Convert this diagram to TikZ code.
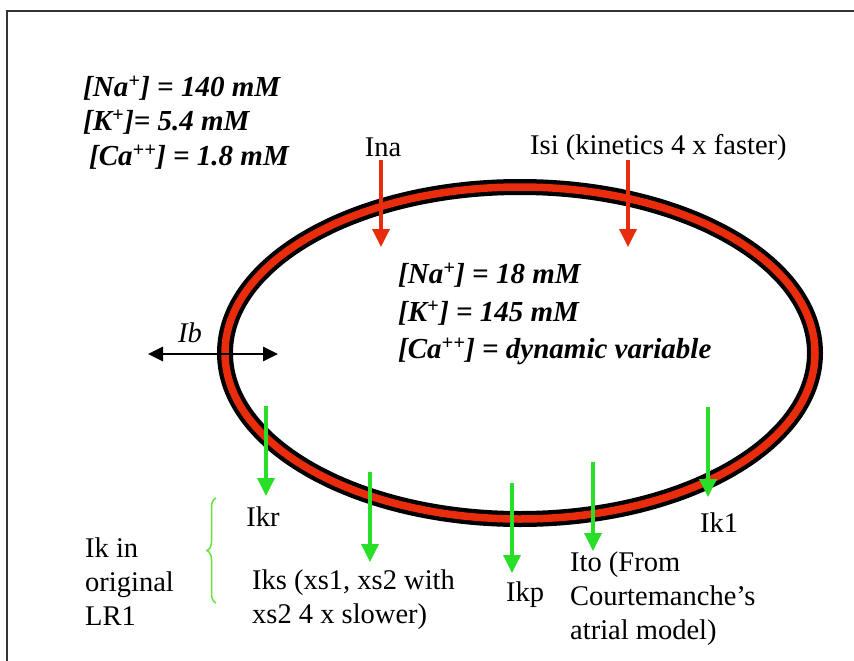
\documentclass[tikz,border=0pt]{standalone}
\usepackage{fontspec}
\setmainfont{Liberation Serif}
\usetikzlibrary{arrows.meta,decorations.pathreplacing}
\definecolor{memred}{RGB}{232,44,12}
\definecolor{curgreen}{RGB}{40,222,40}
\definecolor{bracegreen}{RGB}{100,225,60}
\tikzset{
  lbl/.style={inner sep=0pt, font=\fontsize{28.5}{34}\selectfont, align=left},
  conc/.style={inner sep=0pt, font=\fontsize{29}{34}\selectfont\bfseries\itshape, anchor=west},
  redarr/.style={memred, line width=3.5pt, -{Triangle[width=17pt,length=18pt]}},
  grnarr/.style={curgreen, line width=3.5pt, -{Triangle[width=17pt,length=18pt]}},
  blkarr/.style={black, line width=2.8pt, {Triangle[width=14pt,length=15pt]}-{Triangle[width=14pt,length=15pt]}},
}
\begin{document}
\begin{tikzpicture}[x=1pt,y=-1pt]
\useasboundingbox (0,0) rectangle (854,661);
\fill[white] (0,0) rectangle (854,661);
% frame
\draw[black!80, line width=2pt] (7,661) -- (7,11) -- (854,11);
% membrane
\draw[black, line width=16pt] (520,353) ellipse [x radius=295, y radius=166];
\draw[memred, line width=7.5pt] (520,353) ellipse [x radius=295, y radius=166];
% outside concentrations
\node[conc] (no1) at (83,88) {[Na\textsuperscript{+}] = 140 mM};
\node[conc] (no2) at (83,122) {[K\textsuperscript{+}]= 5.4 mM};
\node[conc] (no3) at (89,157) {[Ca\textsuperscript{++}] = 1.8 mM};
% inside concentrations
\node[conc] (ni1) at (398,275) {[Na\textsuperscript{+}] = 18 mM};
\node[conc] (ni2) at (398,313) {[K\textsuperscript{+}] = 145 mM};
\node[conc] (ni3) at (398,351) {[Ca\textsuperscript{++}] = dynamic variable};
% inward currents
\node[lbl] (ina) at (383,147) {Ina};
\node[lbl, anchor=west] (isi) at (530,147) {Isi (kinetics 4 x faster)};
\coordinate (inaS) at (381,160); \coordinate (inaE) at (381,247);
\coordinate (isiS) at (628,160); \coordinate (isiE) at (628,247);
\draw[redarr] (inaS) -- (inaE);
\draw[redarr] (isiS) -- (isiE);
% background current
\coordinate (ibL) at (148,354); \coordinate (ibR) at (278,354);
\draw[blkarr] (ibL) -- (ibR);
\node[lbl, font=\fontsize{28.5}{34}\selectfont\itshape] (ib) at (190,333) {Ib};
% outward currents
\coordinate (ikrS) at (266,406); \coordinate (ikrE) at (266,496);
\coordinate (iksS) at (370,472); \coordinate (iksE) at (370,562);
\coordinate (ikpS) at (512,483); \coordinate (ikpE) at (512,573);
\coordinate (itoS) at (593,462); \coordinate (itoE) at (593,551);
\coordinate (ik1S) at (708,407); \coordinate (ik1E) at (708,497);
\draw[grnarr] (ikrS) -- (ikrE);
\draw[grnarr] (iksS) -- (iksE);
\draw[grnarr] (ikpS) -- (ikpE);
\draw[grnarr] (itoS) -- (itoE);
\draw[grnarr] (ik1S) -- (ik1E);
\node[lbl] (ikr) at (263,517) {Ikr};
\node[lbl, anchor=west] (iks) at (252,600) {Iks (xs1, xs2 with\\xs2 4 x slower)};
\node[lbl] (ikp) at (525,595) {Ikp};
\node[lbl, anchor=west] (ito) at (570,599) {Ito (From\\Courtemanche’s\\atrial model)};
\node[lbl] (ik1) at (719,523) {Ik1};
\node[lbl, anchor=west] (ikorig) at (85,582) {Ik in\\original\\LR1};
% brace
\coordinate (brB) at (216,603); \coordinate (brT) at (216,498);
\draw[bracegreen, line width=1.5pt, decorate, decoration={brace, amplitude=9pt}] (brB) -- (brT);
\end{tikzpicture}
\end{document}
